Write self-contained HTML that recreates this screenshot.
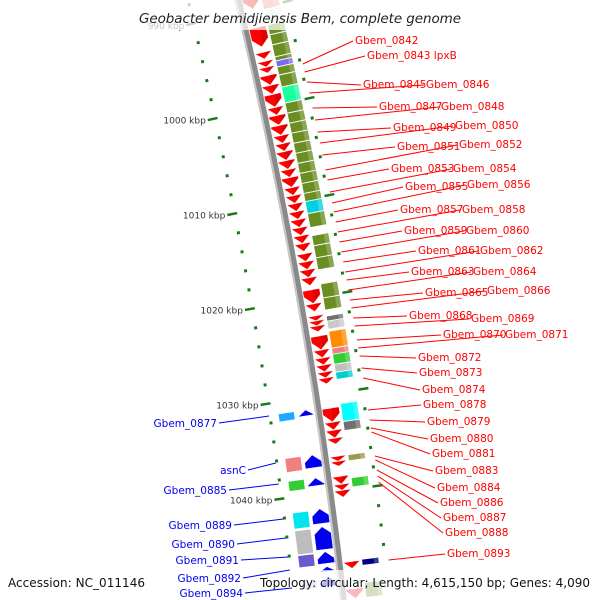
<!DOCTYPE html>
<html><head><meta charset="utf-8"><style>
html,body{margin:0;padding:0;background:#fff;}
svg{display:block;font-family:"DejaVu Sans","Liberation Sans",sans-serif;}
</style></head><body>
<svg id="map" width="600" height="600" viewBox="0 0 600 600" xmlns="http://www.w3.org/2000/svg">
<g id="features"></g>
<rect x="0" y="0" width="600" height="30" fill="#fff" opacity="0.72"/>
<rect x="0" y="570" width="600" height="30" fill="#fff" opacity="0.72"/>
<g id="labels"></g>
<text x="300" y="23" text-anchor="middle" font-size="13.5" font-style="italic" fill="#222" textLength="322">Geobacter bemidjiensis Bem, complete genome</text>
<text x="8" y="587" font-size="12" fill="#111" textLength="137">Accession: NC_011146</text>
<text x="260" y="587" font-size="12" fill="#111" textLength="330">Topology: circular; Length: 4,615,150 bp; Genes: 4,090</text>
</svg>
<script>
// kbp tick values
const kbpTicks=[990,1000,1010,1020,1030,1040];
// reverse-strand gene spans (screen y start/end)
const revStart=[0,30,55,64,70,78,88,97,110,118,128,138,146,154,163,172,180,190,198,206,214,222,230,238,246,256,264,272,280,292,306,318,323,328,338,352,360,367,374,380,410,424,432,440,458,463,478,486,492,563,590];
const revEnd=[12,50,62,70,76,88,97,110,118,128,138,146,154,163,172,180,190,198,206,214,222,230,238,246,254,264,272,280,288,306,314,323,328,334,352,360,367,374,380,386,424,432,440,446,463,468,486,492,499,570,600];
// reverse-strand COG boxes
const revBoxStart=[0,15,30,40,50,62,66,72,80,92,108,118,128,138,148,158,168,178,188,198,206,218,240,250,262,288,302,320,325,335,352,358,368,376,407,425,458,481,562,585];
const revBoxEnd=[15,30,40,50,62,66,72,80,92,108,118,128,138,148,158,168,178,188,198,206,218,232,250,262,274,302,314,325,333,352,358,368,376,383,425,434,464,490,568,600];
const revBoxColor=["#f08080","#d8eed8","#6b8e23","#6b8e23","#6b8e23","#6b8e23","#7b68ee","#6b8e23","#6b8e23","#1affa0","#6b8e23","#6b8e23","#6b8e23","#6b8e23","#6b8e23","#6b8e23","#6b8e23","#6b8e23","#6b8e23","#6b8e23","#00d0e0","#6b8e23","#6b8e23","#6b8e23","#6b8e23","#6b8e23","#6b8e23","#707070","#c8c8c8","#ff8c00","#f08080","#32cd32","#c0c0c0","#00ced1","#00ffff","#707070","#9a9a4a","#32cd32","#000080","#6b8e23"];
// forward-strand genes and boxes
const fwdStart=[408,453,476,507,525,550,565,575];
const fwdEnd=[414,466,484,522,548,562,570,585];
const fwdBoxStart=[408,453,476,508,526,551,578];
const fwdBoxEnd=[416,467,486,524,550,563,585];
const fwdBoxColor=["#1ea8ff","#f08080","#32cd32","#00e5ee","#bdbdbd","#6a5acd","#b0b0ff"];
// right labels
const rNames=["Gbem_0842","Gbem_0843 lpxB","Gbem_0845","Gbem_0846","Gbem_0847","Gbem_0848","Gbem_0849","Gbem_0850","Gbem_0851","Gbem_0852","Gbem_0853","Gbem_0854","Gbem_0855","Gbem_0856","Gbem_0857","Gbem_0858","Gbem_0859","Gbem_0860","Gbem_0861","Gbem_0862","Gbem_0863","Gbem_0864","Gbem_0865","Gbem_0866","Gbem_0868","Gbem_0869","Gbem_0870","Gbem_0871","Gbem_0872","Gbem_0873","Gbem_0874","Gbem_0878","Gbem_0879","Gbem_0880","Gbem_0881","Gbem_0883","Gbem_0884","Gbem_0886","Gbem_0887","Gbem_0888","Gbem_0893"];
const rX=[355,367,363,426,379,441,393,455,397,459,391,453,405,467,400,462,404,466,418,480,411,473,425,487,409,471,443,505,418,419,422,423,427,430,432,435,437,440,443,445,447];
const rY=[44,59,88,88,110,110,131,129,150,148,172,172,190,188,213,213,234,234,254,254,275,275,296,294,319,322,338,338,361,376,393,408,425,442,457,474,491,506,521,536,557];
const rTarget=[64,72,82,93,108,120,132,143,155,170,180,192,203,212,222,232,242,252,262,272,280,290,300,308,318,326,340,348,356,368,378,410,420,428,432,456,460,470,476,482,560];
// left labels
const lNames=["Gbem_0877","asnC","Gbem_0885","Gbem_0889","Gbem_0890","Gbem_0891","Gbem_0892","Gbem_0894"];
const lX=[217,246,227,232,235,239,241,243];
const lY=[427,474,494,529,548,564,582,597];
const lTarget=[416,463,484,519,538,557,570,588];

const NS="http://www.w3.org/2000/svg";
const F=document.getElementById('features'),L=document.getElementById('labels');
function cx(y){return 238+0.2381*y-1.044e-4*y*y;}
function ang(y){return Math.atan(0.2381-2.088e-4*y)*180/Math.PI;}
function pt(y,off){const a=Math.atan(0.2381-2.088e-4*y);return [cx(y)+off*Math.cos(a),y-off*Math.sin(a)];}
function mk(tag,attrs,parent){const e=document.createElementNS(NS,tag);for(const k in attrs)e.setAttribute(k,attrs[k]);parent.appendChild(e);return e;}
function grp(ym){return mk('g',{transform:`translate(${cx(ym)},${ym}) rotate(${-ang(ym)})`},F);}

// backbone
let d='';for(let y=-5;y<=605;y+=5){d+=(y===-5?'M':'L')+cx(y).toFixed(1)+','+y;}
const bb=mk('path',{d:d,stroke:'#8a8a8a','stroke-width':7,fill:'none'},F);


const bb2=mk('path',{d:d,stroke:'#c8c8c8','stroke-width':2,fill:'none',transform:'translate(-2.5,0)'},F);



// ticks
for(let k=986;k<=1046;k+=2){
  const ym=108+9.6*(k-1000);
  const major=(k%10===0);
  const g=grp(ym);
  const t1=mk('rect',{x:major?-56:-50,y:-1,width:major?10:3,height:major?2.5:3,fill:'#1a7a1a'},g);
  
  
  const t2=mk('rect',{x:major?43:45,y:-1,width:major?10:3,height:major?2.5:3,fill:'#1a7a1a'},g);
  
  
}
kbpTicks.forEach(k=>{
  const ym=108+9.6*(k-1000);
  const p=pt(ym,-58);
  const t=mk('text',{x:p[0],y:p[1]+3.5,'text-anchor':'end','font-size':9,fill:'#333'},F);
  t.textContent=k+' kbp';
  
  
});

// reverse genes
revStart.forEach((s,i)=>{
  const e=revEnd[i],len=e-s,ym=(s+e)/2,g=grp(ym),h=len/2;
  const tip=Math.min(8,len);
  const p=`${4},${-h} ${21},${-h} ${21},${h-tip} ${12.5},${h} ${4},${h-tip}`;
  const a=mk('polygon',{points:p,fill:'#ff0000',stroke:'#fff','stroke-width':0.6},g);
  
  
  mk('polygon',{points:`${14},${-h} ${21},${-h} ${21},${h-tip} ${14},${h-tip*0.2}`,fill:'#c00000',opacity:0.45},g);
});
revBoxStart.forEach((s,i)=>{
  const e=revBoxEnd[i],ym=(s+e)/2,g=grp(ym),h=(e-s)/2;
  const r=mk('rect',{x:23,y:-h,width:17,height:e-s,fill:revBoxColor[i],stroke:'#fff','stroke-width':0.7},g);
  
  
  mk('rect',{x:35,y:-h+0.5,width:5,height:e-s-1,fill:'#fff',opacity:0.22},g);
});
fwdStart.forEach((s,i)=>{
  const e=fwdEnd[i],len=e-s,ym=(s+e)/2,g=grp(ym),h=len/2;
  const tip=Math.min(7,len);
  const p=`${-21},${h} ${-4},${h} ${-4},${-h+tip} ${-12.5},${-h} ${-21},${-h+tip}`;
  const a=mk('polygon',{points:p,fill:'#0000ee',stroke:'#fff','stroke-width':0.6},g);
  
  
});
fwdBoxStart.forEach((s,i)=>{
  const e=fwdBoxEnd[i],ym=(s+e)/2,g=grp(ym),h=(e-s)/2;
  const r=mk('rect',{x:-40,y:-h,width:16,height:e-s,fill:fwdBoxColor[i],stroke:'#fff','stroke-width':0.6},g);
  
  
});

// right labels
rNames.forEach((n,i)=>{
  const ty=rTarget[i];
  const ln=mk('line',{x1:rX[i]-2,y1:rY[i]-3,x2:cx(ty)+50,y2:ty,stroke:'#ff0000','stroke-width':1},L);
  
  
});
rNames.forEach((n,i)=>{
  const t=mk('text',{x:rX[i],y:rY[i],'font-size':10.5,fill:'#ff0000'},L);
  t.textContent=n;
  
  
});
lNames.forEach((n,i)=>{
  const ty=lTarget[i];
  const ln=mk('line',{x1:lX[i]+2,y1:lY[i]-4,x2:cx(ty)-50,y2:ty,stroke:'#0000ee','stroke-width':1},L);
  
  
  const t=mk('text',{x:lX[i],y:lY[i],'font-size':10.5,fill:'#0000ee','text-anchor':'end'},L);
  t.textContent=n;
  
  
});
</script>
</body></html>
